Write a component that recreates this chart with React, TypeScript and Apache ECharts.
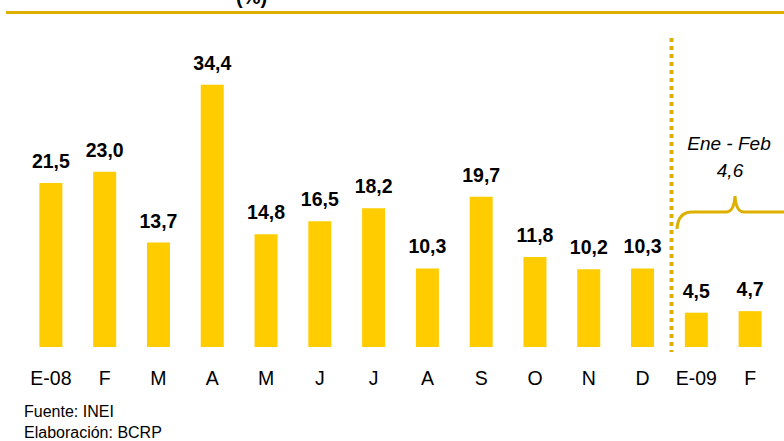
import React, { useEffect, useRef } from "react";
import * as echarts from "echarts";

const categories = ["E-08", "F", "M", "A", "M", "J", "J", "A", "S", "O", "N", "D", "E-09", "F"];
const values = [21.5, 23.0, 13.7, 34.4, 14.8, 16.5, 18.2, 10.3, 19.7, 11.8, 10.2, 10.3, 4.5, 4.7];
const noteLines = ["Ene - Feb", "4,6"];
const sourceLines = ["Fuente: INEI", "Elaboración: BCRP"];

const FONT = "'Liberation Sans', Arial, sans-serif";

echarts.graphic.registerShape(
  "brace",
  echarts.graphic.extendPath(
    "M677 229 Q678 212 692 212 L726 212 Q734 212 735 196 Q736 212 744 212 L792 212",
    {}
  )
);

export default function App() {
  const ref = useRef<HTMLDivElement>(null);
  useEffect(() => {
    if (!ref.current) return;
    const chart = echarts.init(ref.current, null, { renderer: "svg" });
    chart.setOption({
      animation: false,
      backgroundColor: "#ffffff",
      grid: { left: 24, right: 7, top: 42, bottom: 94, containLabel: false },
      xAxis: {
        type: "category",
        data: categories,
        axisLine: { show: false },
        axisTick: { show: false },
        axisLabel: { color: "#000", fontSize: 19.5, fontFamily: FONT, margin: 21, interval: 0 },
      },
      yAxis: { type: "value", min: 0, max: 40, show: false, splitLine: { show: false } },
      series: [
        {
          type: "bar",
          data: values,
          barWidth: 23,
          itemStyle: { color: "#FFCC00" },
          label: {
            show: true,
            position: "top",
            distance: 12,
            color: "#000",
            fontSize: 19.5,
            fontWeight: "bold",
            fontFamily: FONT,
            formatter: (p: any) => p.value.toFixed(1).replace(".", ","),
          },
        },
      ],
      graphic: [
        {
          type: "text",
          left: 236,
          top: -13,
          style: { text: "(%)", fontSize: 20, fontWeight: "bold", fontFamily: FONT, fill: "#000" },
        },
        {
          type: "line",
          shape: { x1: 6, y1: 12.5, x2: 784, y2: 12.5 },
          style: { stroke: "#DDB000", lineWidth: 3 },
        },
        {
          type: "line",
          shape: { x1: 671.5, y1: 38, x2: 671.5, y2: 352 },
          style: { stroke: "#DDB000", lineWidth: 4, lineDash: [4, 4] },
        },
        {
          type: "brace",
          style: { stroke: "#DDB000", lineWidth: 3, fill: null },
        },
        {
          type: "text",
          x: 729,
          y: 143,
          style: {
            text: noteLines[0],
            fontSize: 19,
            fontStyle: "italic",
            fontFamily: FONT,
            fill: "#000",
            align: "center",
            verticalAlign: "middle",
          },
        },
        {
          type: "text",
          x: 730,
          y: 170,
          style: {
            text: noteLines[1],
            fontSize: 19,
            fontStyle: "italic",
            fontFamily: FONT,
            fill: "#000",
            align: "center",
            verticalAlign: "middle",
          },
        },
        {
          type: "text",
          x: 24,
          y: 411,
          style: { text: sourceLines[0], fontSize: 16, fontFamily: FONT, fill: "#000", verticalAlign: "middle" },
        },
        {
          type: "text",
          x: 24,
          y: 432,
          style: { text: sourceLines[1], fontSize: 16, fontFamily: FONT, fill: "#000", verticalAlign: "middle" },
        },
      ],
    });
    return () => chart.dispose();
  }, []);
  return <div ref={ref} style={{ width: 784, height: 441 }} />;
}

const _style = document.createElement("style");
_style.textContent = "body{margin:0}";
document.head.appendChild(_style);
